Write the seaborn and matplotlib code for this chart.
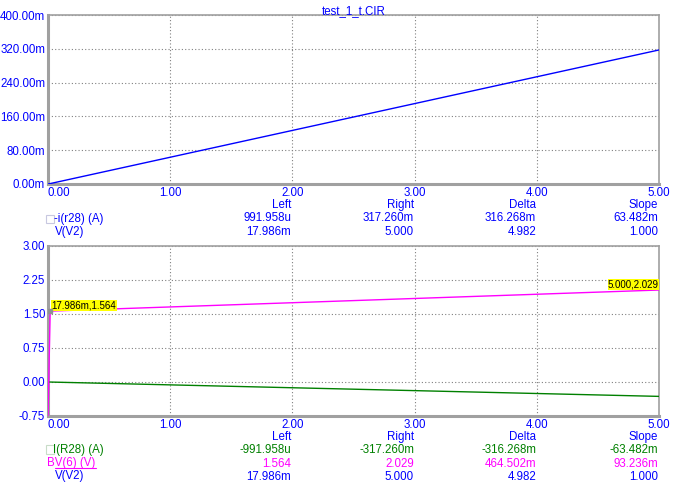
import pandas as pd
import matplotlib.pyplot as plt
import seaborn as sns
from matplotlib.lines import Line2D
from matplotlib.patches import Rectangle

# datos
x_top = [0.0, 0.017986, 5.0]
i_r28_neg = [0.0, 0.000991958, 0.31726]

x_bot = [0.0, 0.017986, 5.0]
i_r28 = [0.0, -0.000991958, -0.31726]
x_bv = [0.0, 0.017986, 5.0]
bv6 = [-0.75, 1.564, 2.029]

xticks = [0, 1, 2, 3, 4, 5]
yticks_top = [0, 0.08, 0.16, 0.24, 0.32, 0.40]
yticks_bot = [-0.75, 0, 0.75, 1.5, 2.25, 3.0]

cols = ["Left", "Right", "Delta", "Slope"]
top_rows = [["991.958u", "317.260m", "316.268m", "63.482m"],
            ["17.986m", "5.000", "4.982", "1.000"]]
bot_rows = [["-991.958u", "-317.260m", "-316.268m", "-63.482m"],
            ["1.564", "2.029", "464.502m", "93.236m"],
            ["17.986m", "5.000", "4.982", "1.000"]]

BLUE = "#0000ff"
GREEN = "#008000"
MAG = "#ff00ff"
W, H = 690, 487

sns.set_style("white")
plt.rcParams['font.family'] = ['Liberation Sans', 'DejaVu Sans']
fs = 8.3

fig = plt.figure(figsize=(W / 100, H / 100), dpi=100)


def px(x, y):
    return x / W, 1 - y / H


def make_ax(top, bottom):
    l, r = 48, 659
    ax = fig.add_axes([l / W, 1 - bottom / H, (r - l) / W, (bottom - top) / H])
    ax.grid(True, color="#808080", linestyle=(0, (1, 2)), linewidth=0.8)
    for s in ax.spines.values():
        s.set_color("#a0a0a0")
        s.set_linewidth(1.2)
    ax.spines["left"].set_linewidth(2.2)
    ax.spines["bottom"].set_linewidth(2.2)
    ax.tick_params(length=0, pad=2, labelsize=fs, colors=BLUE)
    ax.set_xlim(0, 5)
    ax.set_xticks(xticks)
    ax.set_xticklabels([f"{v:.2f}" for v in xticks])
    ax.get_xticklabels()[0].set_horizontalalignment("left")
    return ax


# panel superior
ax1 = make_ax(15, 184)
df1 = pd.DataFrame({"x": x_top, "y": i_r28_neg})
sns.lineplot(data=df1, x="x", y="y", color=BLUE, linewidth=1, ax=ax1, zorder=3)
ax1.set_xlabel("")
ax1.set_ylabel("")
ax1.set_ylim(0, 0.4)
ax1.set_yticks(yticks_top)
ax1.set_yticklabels([f"{v * 1000:.2f}m" for v in yticks_top])
ax1.set_title("test_1_t.CIR", fontsize=fs, color=BLUE, pad=1)

# panel inferior
ax2 = make_ax(246, 416)
df2 = pd.DataFrame({"x": x_bot, "y": i_r28})
df3 = pd.DataFrame({"x": x_bv, "y": bv6})
sns.lineplot(data=df2, x="x", y="y", color=GREEN, linewidth=1, ax=ax2, zorder=3)
sns.lineplot(data=df3, x="x", y="y", color=MAG, linewidth=1, ax=ax2, zorder=3)
ax2.set_xlabel("")
ax2.set_ylabel("")
ax2.set_ylim(-0.75, 3.0)
ax2.set_yticks(yticks_bot)
ax2.set_yticklabels([f"{v:.2f}" for v in yticks_bot])
ax2.plot([x_bv[1]], [bv6[1]], marker="s", ms=3, color="#909090", zorder=4)
ax2.annotate("17.986m,1.564", (x_bv[1], bv6[1]), xytext=(1, 0.5),
             textcoords="offset points", ha="left", va="bottom",
             fontsize=7, color="black",
             bbox=dict(boxstyle="square,pad=0.05", fc="#ffff00", ec="none"))
ax2.annotate("5.000,2.029", (x_bv[2], bv6[2]), xytext=(0, 0.5),
             textcoords="offset points", ha="right", va="bottom",
             fontsize=7, color="black",
             bbox=dict(boxstyle="square,pad=0.05", fc="#ffff00", ec="none"))

# tablas de cursores
col_x = [291, 414, 536, 658]


def tabla(y0, rows, colors):
    for cx, c in zip(col_x, cols):
        fig.text(*px(cx, y0), c, ha="right", va="center", fontsize=fs, color=BLUE)
    for i, (row, col) in enumerate(zip(rows, colors)):
        for cx, v in zip(col_x, row):
            fig.text(*px(cx, y0 + 13.3 * (i + 1)), v, ha="right", va="center",
                     fontsize=fs, color=col)


tabla(205, top_rows, [BLUE, BLUE])
tabla(437, bot_rows, [GREEN, MAG, BLUE])

fig.add_artist(Rectangle(px(46, 223), 8 / W, 8 / H, fill=False, ec="#c8c8e0", lw=0.8))
fig.text(*px(54, 219), "-i(r28) (A)", ha="left", va="center", fontsize=fs, color=BLUE)
fig.text(*px(55, 232), "V(V2)", ha="left", va="center", fontsize=fs, color=BLUE)

fig.add_artist(Rectangle(px(46, 454), 8 / W, 9 / H, fill=False, ec="#c8dcc8", lw=0.8))
fig.text(*px(53, 450), "I(R28) (A)", ha="left", va="center", fontsize=fs, color=GREEN)
fig.text(*px(47, 463), "BV(6) (V)", ha="left", va="center", fontsize=fs, color=MAG)
fig.add_artist(Line2D([55 / W, 96 / W], [1 - 468 / H, 1 - 468 / H], color=MAG, lw=0.8))
fig.text(*px(55, 476), "V(V2)", ha="left", va="center", fontsize=fs, color=BLUE)

fig.savefig("out.png", dpi=100)
